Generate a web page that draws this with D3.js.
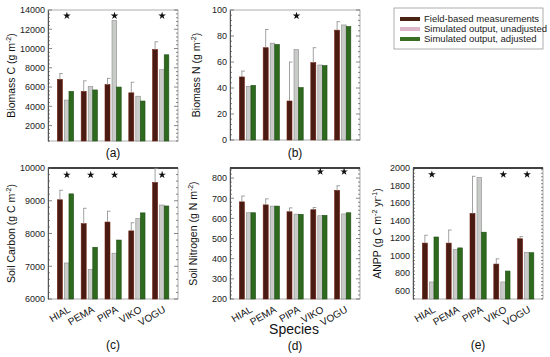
<!DOCTYPE html>
<html><head><meta charset="utf-8">
<script src="https://cdn.jsdelivr.net/npm/d3@7"></script>
<style>body{margin:0;background:#fff}svg{display:block;font-family:"Liberation Sans",Arial,sans-serif}</style>
</head><body><svg id="c" width="550" height="357"></svg>
<script>
const species = ["HIAL","PEMA","PIPA","VIKO","VOGU"];
const seriesNames = ["Field-based measurements","Simulated output, unadjusted","Simulated output, adjusted"];

// (a) Biomass C
const bioC_field = [6800,5550,6250,5400,9900];
const bioC_err   = [7400,6650,6900,6500,10700];
const bioC_unadj = [4650,6050,12900,5050,7800];
const bioC_adj   = [5550,5700,6000,4550,9350];
const bioC_star  = [1,0,1,0,1];
const bioC_ticks = [2000,4000,6000,8000,10000,12000,14000];

// (b) Biomass N
const bioN_field = [48.5,71,30,59.5,84.5];
const bioN_err   = [53,85,60,71,91];
const bioN_unadj = [41.3,74.5,69.5,57.7,88.5];
const bioN_adj   = [42,73.5,40.3,57.2,87.3];
const bioN_star  = [0,0,1,0,0];
const bioN_ticks = [0,20,40,60,80,100];

// (c) Soil Carbon
const soilC_field = [9030,8300,8350,8080,9560];
const soilC_err   = [9320,8770,8680,8330,9990];
const soilC_unadj = [7100,6900,7400,8460,8870];
const soilC_adj   = [9210,7580,7800,8630,8840];
const soilC_star  = [1,1,1,0,1];
const soilC_ticks = [6000,7000,8000,9000,10000];

// (d) Soil Nitrogen
const soilN_field = [682,667,633,643,739];
const soilN_err   = [711,697,652,654,762];
const soilN_unadj = [628,661,621,613,622];
const soilN_adj   = [628,661,620,615,628];
const soilN_star  = [0,0,0,1,1];
const soilN_ticks = [200,300,400,500,600,700,800];

// (e) ANPP
const anpp_field = [1140,1140,1480,900,1190];
const anpp_err   = [1230,1290,1905,960,1215];
const anpp_unadj = [695,1065,1890,695,1035];
const anpp_adj   = [1210,1085,1265,820,1030];
const anpp_star  = [1,0,0,1,1];
const anpp_ticks = [600,800,1000,1200,1400,1600,1800,2000];

const svg = d3.select("#c");
const fillC = ["#4a1b12","#c8cbc8","#2e6a1d"];
const strokeC = ["#6e1f12","#8a8d8a","#1f4c14"];

const panels = [
  {id:"(a)", x0:48, x1:178, y0:10, y1:141, dom:[400,14000], ticks:bioC_ticks, minor:400,
   f:bioC_field, e:bioC_err, u:bioC_unadj, a:bioC_adj, s:bioC_star, starV:13400,
   ylab:["Biomass C (g m","-2",")"], ylx:15, cats:false, labY:157, top:false},
  {id:"(b)", x0:230, x1:360, y0:10, y1:140, dom:[0,100], ticks:bioN_ticks, minor:4,
   f:bioN_field, e:bioN_err, u:bioN_unadj, a:bioN_adj, s:bioN_star, starV:95.5,
   ylab:["Biomass N (g m","-2",")"], ylx:200, cats:false, labY:157, top:false},
  {id:"(c)", x0:48, x1:178, y0:168, y1:299, dom:[6000,10000], ticks:soilC_ticks, minor:200,
   f:soilC_field, e:soilC_err, u:soilC_unadj, a:soilC_adj, s:soilC_star, starV:9790,
   ylab:["Soil Carbon (g C m","-2",")"], ylx:15, cats:true, labY:349, top:true},
  {id:"(d)", x0:230, x1:360, y0:168, y1:299, dom:[200,850], ticks:soilN_ticks, minor:20,
   f:soilN_field, e:soilN_err, u:soilN_unadj, a:soilN_adj, s:soilN_star, starV:832,
   ylab:["Soil Nitrogen (g N m","-2",")"], ylx:197, cats:true, labY:350, top:true},
  {id:"(e)", x0:413, x1:543, y0:168, y1:299, dom:[500,2000], ticks:anpp_ticks, minor:40,
   f:anpp_field, e:anpp_err, u:anpp_unadj, a:anpp_adj, s:anpp_star, starV:1925,
   ylab:["ANPP (g C m","-2"," yr","-1",")"], ylx:381, cats:true, labY:349, top:true}
];

const star = d3.symbol().type(d3.symbolStar).size(18);

panels.forEach(p => {
  const g = svg.append("g");
  const x = d3.scalePoint().domain(species).range([p.x0,p.x1]).padding(0.73);
  const y = d3.scaleLinear().domain(p.dom).range([p.y1,p.y0]);
  const base = p.y1;
  g.append("rect").attr("x",p.x0).attr("y",p.y0).attr("width",p.x1-p.x0).attr("height",p.y1-p.y0)
    .attr("fill","none").attr("stroke","#9a9a9a").attr("stroke-width",0.8);
  if (p.top) g.append("line").attr("x1",p.x0).attr("x2",p.x1).attr("y1",p.y0).attr("y2",p.y0)
    .attr("stroke","#111").attr("stroke-width",1.6);
  const minorVals = d3.range(p.dom[0], p.dom[1]+1e-9, p.minor);
  const left = d3.axisLeft(y).tickValues(p.ticks).tickSize(0).tickPadding(3).tickFormat(d3.format("d"));
  const ga = g.append("g").attr("transform",`translate(${p.x0},0)`).call(left);
  ga.select(".domain").attr("stroke","#555");
  ga.selectAll("text").attr("font-size",9).attr("fill","#222");
  [p.x0, p.x1].forEach((xx,i) => {
    const dir = i===0 ? 1 : -1;
    g.selectAll(null).data(minorVals).join("line")
      .attr("x1",xx).attr("x2",d => xx + dir*(p.ticks.some(t=>Math.abs(t-d)<1e-6)?4:2))
      .attr("y1",d=>y(d)).attr("y2",d=>y(d)).attr("stroke","#555").attr("stroke-width",0.7);
  });
  const offs = [[-8,-3],[-1,3.6],[3.6,8.2]];
  const sets = [p.f,p.u,p.a];
  sets.forEach((vals,si) => {
    g.selectAll(null).data(vals).join("rect")
      .attr("x",(d,i)=>x(species[i])+offs[si][0])
      .attr("width",offs[si][1]-offs[si][0])
      .attr("y",d=>y(d)).attr("height",d=>base-y(d))
      .attr("fill",fillC[si]).attr("stroke",strokeC[si]).attr("stroke-width",0.6);
  });
  g.selectAll(null).data(p.e).join("path")
    .attr("d",(d,i)=>{const cx=x(species[i])-5.5; return `M${cx},${y(p.f[i])}V${y(d)}M${cx-0.5},${y(d)}H${cx+3}`;})
    .attr("stroke","#8a8a8a").attr("stroke-width",0.8).attr("fill","none");
  g.selectAll(null).data(p.s.map((v,i)=>({v,i})).filter(d=>d.v)).join("path")
    .attr("d",star).attr("transform",d=>`translate(${x(species[d.i])+1.5},${y(p.starV)})`)
    .attr("fill","#111");
  if (p.cats) {
    g.selectAll(null).data(species).join("text")
      .attr("transform",d=>`translate(${x(d)+2},${p.y1+6}) rotate(-30)`)
      .attr("text-anchor","end").attr("dy","0.75em").attr("font-size",10).attr("fill","#111")
      .text(d=>d);
  }
  const cy = (p.y0+p.y1)/2;
  const t = g.append("text").attr("transform",`translate(${p.ylx},${cy}) rotate(-90)`)
    .attr("text-anchor","middle").attr("font-size",10.5).attr("fill","#111");
  p.ylab.forEach((s,k)=>{
    const sup = k%2===1;
    t.append("tspan").attr("font-size",sup?7:10.5).attr("dy",sup?-4:(k>0?4:0)).text(s);
  });
  g.append("text").attr("x",(p.x0+p.x1)/2).attr("y",p.labY).attr("text-anchor","middle")
    .attr("font-size",12).attr("fill","#111").text(p.id);
});

svg.append("text").attr("x",294).attr("y",334).attr("text-anchor","middle")
  .attr("font-size",14).attr("fill","#111").text("Species");

const lg = svg.append("g");
lg.append("rect").attr("x",394).attr("y",8).attr("width",149).attr("height",41)
  .attr("fill","#fff").attr("stroke","#9a9a9a").attr("stroke-width",0.8);
const legFill = ["#4a2412","#dcb6c9","#3a6e22"];
seriesNames.forEach((n,i)=>{
  const yy = 19 + i*10;
  lg.append("rect").attr("x",400).attr("y",yy-2).attr("width",20).attr("height",4).attr("fill",legFill[i]);
  lg.append("text").attr("x",424).attr("y",yy).attr("dy","0.35em").attr("font-size",9.5).attr("fill","#222").text(n);
});
</script></body></html>
